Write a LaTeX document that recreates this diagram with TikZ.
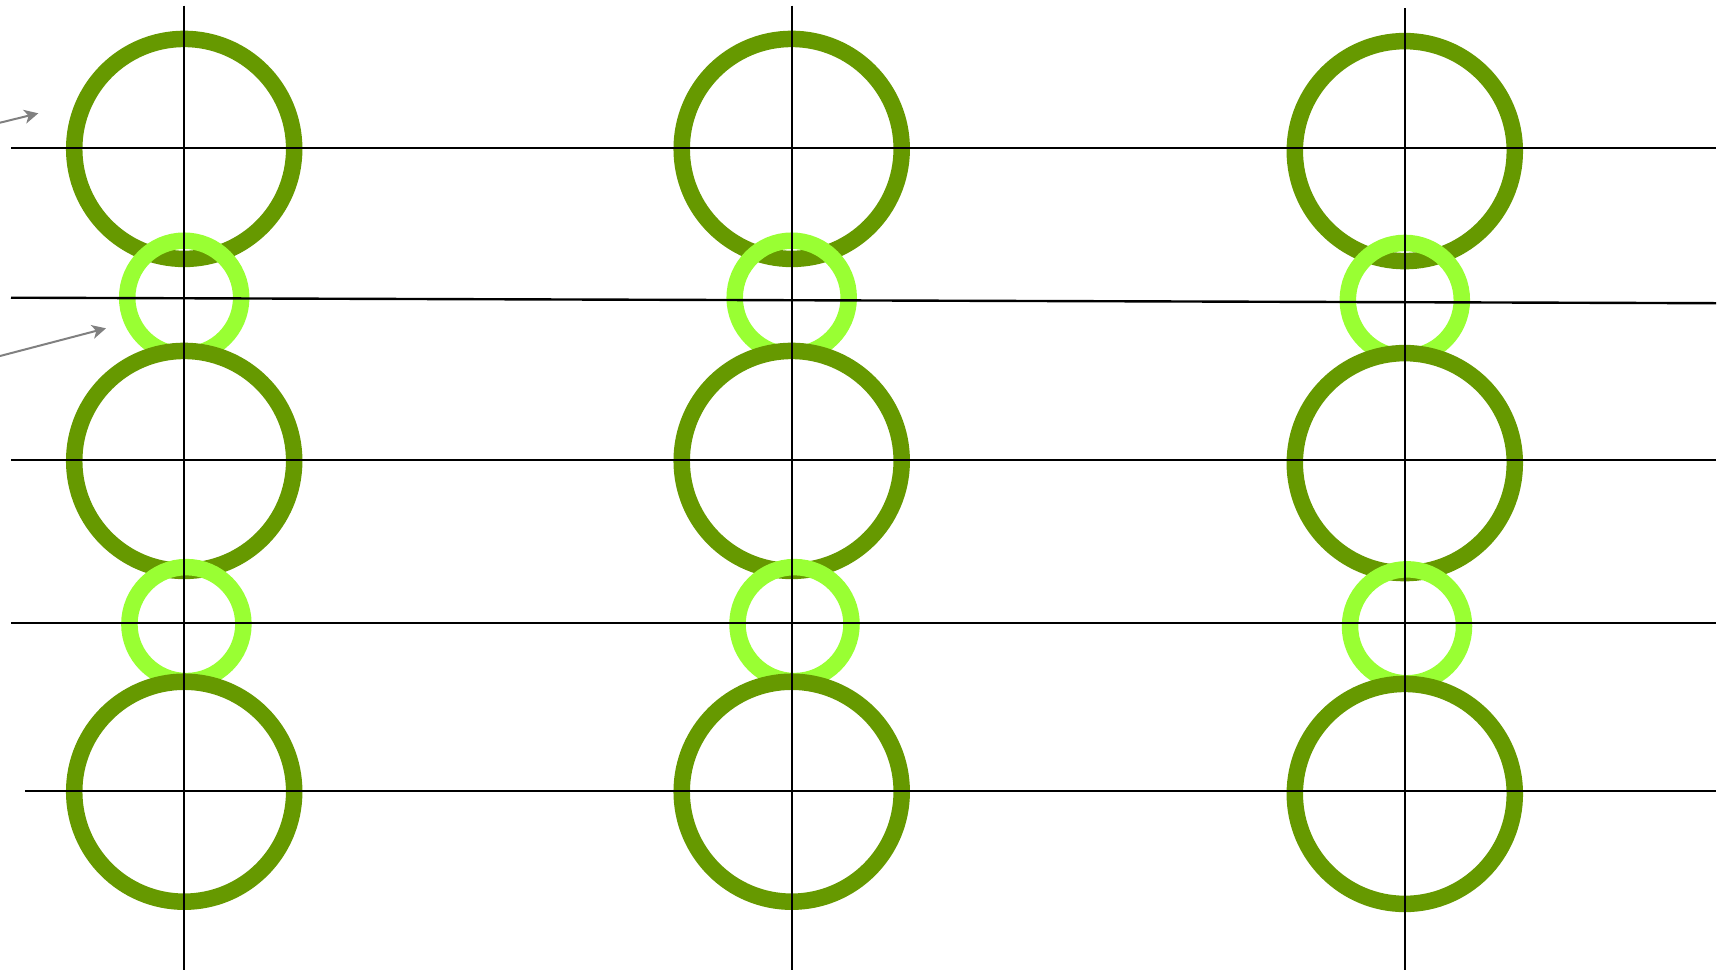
\documentclass[tikz,border=0pt]{standalone}
\usepackage{tikz}
\usetikzlibrary{arrows.meta}
\definecolor{ringdark}{HTML}{669900}
\definecolor{ringlight}{HTML}{99FF33}
\newcommand{\darkring}[3]{\node[shape=circle,draw=ringdark,fill=white,line width=8.25pt,inner sep=0pt,minimum size=110pt] (#1) at ( #2 , #3 ) {};}
\newcommand{\lightring}[3]{\node[shape=circle,draw=ringlight,line width=8.25pt,inner sep=0pt,minimum size=57pt] (#1) at ( #2 , #3 ) {};}
\newcommand{\gridline}[4]{\draw[line width=1.2pt] ( #1 , #2 ) -- ( #3 , #4 );}

\begin{document}
\begin{tikzpicture}[x=0.5pt,y=-0.5pt]
\useasboundingbox (0,0) rectangle (1729,970);
% column 1 rings
\darkring{d11}{184.2}{148.9}
\lightring{l11}{184.2}{297.7}
\darkring{d12}{184.2}{460.9}
\lightring{l12}{186.4}{624.1}
\darkring{d13}{184.2}{791.7}
% column 2 rings
\darkring{d21}{791.7}{148.9}
\lightring{l21}{791.7}{297.7}
\darkring{d22}{791.7}{460.9}
\lightring{l22}{794.5}{624.1}
\darkring{d23}{791.7}{791.7}
% column 3 rings
\darkring{d31}{1404.8}{151.1}
\lightring{l31}{1404.8}{299.9}
\darkring{d32}{1404.8}{463.1}
\lightring{l32}{1407}{626.3}
\darkring{d33}{1404.8}{793.9}
% vertical lines
\gridline{184.2}{5.5}{184.2}{970}
\gridline{791.7}{5.5}{791.7}{970}
\gridline{1404.8}{8.3}{1404.8}{970}
% horizontal lines
\gridline{11}{148}{1716}{148}
\gridline{11}{297.7}{1716}{303.2}
\gridline{11}{459.8}{1716}{459.8}
\gridline{11}{623}{1716}{623}
\gridline{25.4}{790.8}{1716}{790.8}
% arrows
\coordinate (a1s) at (0,122.7);
\coordinate (a1e) at (38.3,113.3);
\coordinate (a2s) at (0,356);
\coordinate (a2e) at (106,328.3);
\draw[-{Stealth[length=7pt,width=7pt,inset=2pt]},gray,line width=1pt] (a1s) -- (a1e);
\draw[-{Stealth[length=7pt,width=7pt,inset=2pt]},gray,line width=1pt] (a2s) -- (a2e);
\end{tikzpicture}
\end{document}
